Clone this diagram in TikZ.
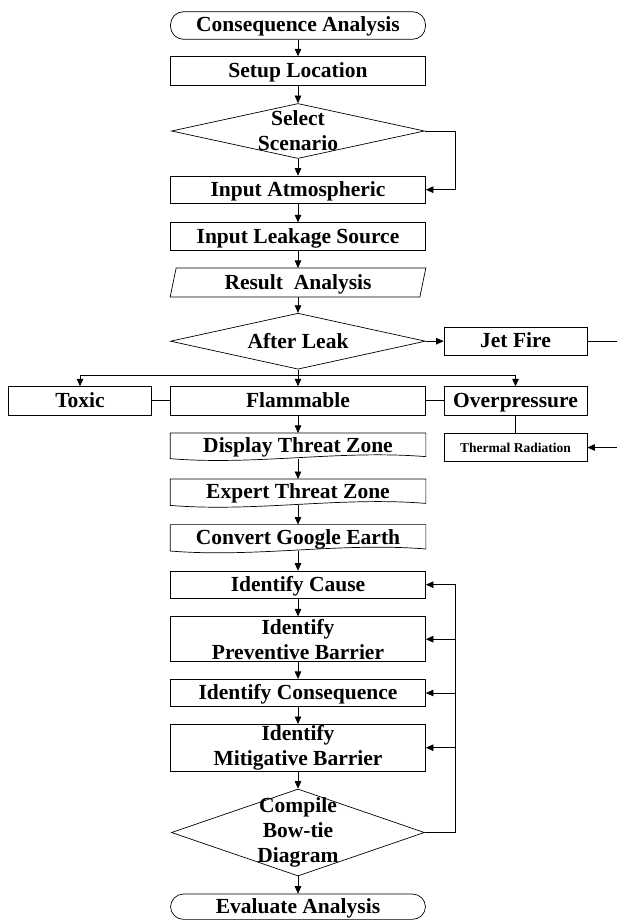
\documentclass[tikz,border=0pt]{standalone}
\usepackage{fontspec}
\setmainfont{Liberation Serif}
\usetikzlibrary{arrows.meta,shapes.geometric}

\begin{document}
\begin{tikzpicture}[x=1pt,y=-1pt,
  line width=0.7pt,
  arr/.style={-{Triangle[length=7.5pt,width=6.5pt]}},
  txt/.style={font=\bfseries\fontsize{21.5}{25}\selectfont},
  mltxt/.style={txt, align=center},
  smalltxt/.style={font=\bfseries\fontsize{13.5}{16}\selectfont, text height=10pt, text depth=1pt},
  box/.style={draw, rectangle, inner sep=0pt, txt, text height=15pt, text depth=2pt,
              minimum width=255pt, minimum height=28pt},
  sidebox/.style={box, minimum width=143pt},
  plainbox/.style={box, draw=none},
  term/.style={box, rounded corners=13pt},
  dia/.style={draw, diamond, inner sep=0pt, minimum width=253pt}
]
\useasboundingbox (0,0) rectangle (616,920);

% main column
\node[term, minimum height=27.6pt] (cons) at (298,25.5) {Consequence Analysis};
\node[box, minimum height=28.3pt] (setup) at (298,70.8) {Setup Location};
\node[dia, minimum height=55pt, label={[mltxt]center:Select\\Scenario}] (sel) at (298,131) {};
\node[box, minimum height=27.3pt] (atm) at (298,189.7) {Input Atmospheric};
\node[box] (leak) at (298,236.7) {Input Leakage Source};
\node[plainbox, minimum height=28.4pt] (res) at (298,282.5) {Result~~Analysis};
\node[dia, minimum width=255pt, minimum height=56pt, label={[txt]center:After Leak}] (after) at (298,341.2) {};

% branches after the leak
\node[sidebox, minimum height=27.7pt] (jet) at (515.5,341.2) {Jet Fire};
\node[sidebox, minimum height=28.3pt] (toxic) at (80,400.8) {Toxic};
\node[box, minimum height=28.3pt] (flam) at (298,400.8) {Flammable};
\node[sidebox, minimum height=28.3pt] (over) at (515.5,400.8) {Overpressure};
\node[sidebox, minimum height=28.4pt, smalltxt] (therm) at (515.5,447.5) {Thermal Radiation};

% threat zone steps (wavy-bottom document boxes)
\node[plainbox, minimum height=25pt] (disp) at (298,445.8) {Display Threat Zone};
\node[plainbox, minimum height=25.7pt] (expert) at (298,492.2) {Expert Threat Zone};
\node[plainbox, minimum height=25.7pt] (conv) at (298,537.8) {Convert Google Earth};

% bow-tie steps
\node[box, minimum height=27.3pt] (cause) at (298,584.7) {Identify Cause};
\node[box, minimum height=45pt, label={[mltxt]center:Identify\\Preventive Barrier}] (prev) at (298,639.2) {};
\node[box, minimum height=27.4pt] (conseq) at (298,693) {Identify Consequence};
\node[box, minimum height=46.7pt, label={[mltxt]center:Identify\\Mitigative Barrier}] (mitig) at (298,747.7) {};
\node[dia, minimum height=87pt, label={[mltxt]center:Compile\\Bow-tie\\Diagram}] (comp) at (298,832.5) {};
\node[term, minimum height=25.3pt] (eval) at (298,906.7) {Evaluate Analysis};

% outlines of the custom shapes
\draw ([xshift=6pt]res.north west) -- (res.north east) -- ([xshift=-6pt]res.south east) -- (res.south west) -- cycle;
\foreach \n in {disp,expert,conv}
  \draw (\n.north west) -- (\n.north east) -- ([yshift=2pt]\n.south east)
        .. controls +(-85pt,7pt) and +(85pt,-7pt) .. (\n.south west) -- cycle;

% main flow
\draw[arr] (cons) -- (setup);
\draw[arr] (setup) -- (sel);
\draw[arr] (sel) -- (atm);
\draw[arr] (atm) -- (leak);
\draw[arr] (leak) -- (res);
\draw[arr] (res) -- (after);

% skip loop from scenario selection
\coordinate (selturn) at (455,131);
\draw[arr] (sel.east) -- (selturn) |- (atm.east);

% leak branches
\coordinate (br) at (298,375);
\draw (after.south) -- (br);
\draw[arr] (br) -| (toxic.north);
\draw[arr] (br) -| (over.north);
\draw[arr] (br) -- (flam.north);
\draw[arr] (after.east) -- (jet.west);
\draw (toxic.east) -- (flam.west);
\draw (flam.east) -- (over.west);
\draw (over.south) -- (therm.north);
\coordinate (edgeA) at (619,341.2);
\coordinate (edgeB) at (619,447.5);
\draw[arr] (jet.east) -- (edgeA) -- (edgeB) -- (therm.east);

% threat zone and bow-tie flow
\draw[arr] (flam.south) -- (disp.north);
\draw[arr] (disp.south) -- (expert.north);
\draw[arr] (expert.south) -- (conv.north);
\draw[arr] (conv.south) -- (cause.north);
\draw[arr] (cause) -- (prev);
\draw[arr] (prev) -- (conseq);
\draw[arr] (conseq) -- (mitig);
\draw[arr] (mitig) -- (comp);
\draw[arr] (comp) -- (eval);

% feedback from the bow-tie diagram
\coordinate (fbtop) at (455,584.7);
\draw[arr] (comp.east) -| (fbtop) -- (cause.east);
\draw[arr] (fbtop |- prev.east) -- (prev.east);
\draw[arr] (fbtop |- conseq.east) -- (conseq.east);
\draw[arr] (fbtop |- mitig.east) -- (mitig.east);
\end{tikzpicture}
\end{document}
